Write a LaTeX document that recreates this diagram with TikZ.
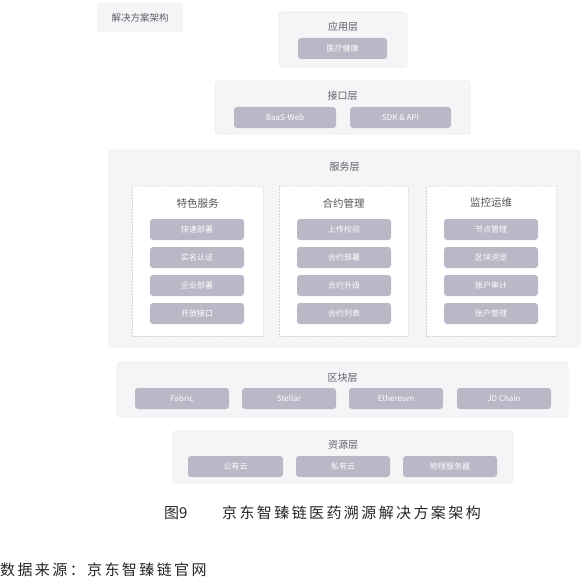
\documentclass[tikz,border=0pt]{standalone}
\usepackage{fontspec}
\setmainfont{Noto Sans CJK SC}
\newfontfamily\capfont[LetterSpace=16]{Noto Sans CJK SC}
\definecolor{layerfill}{HTML}{F5F5F7}
\definecolor{layerline}{HTML}{ECECEF}
\definecolor{itemfill}{HTML}{B8B8C6}
\definecolor{labeltext}{HTML}{5E5E66}
\definecolor{dashline}{HTML}{D2D2D6}
\begin{document}
\begin{tikzpicture}[x=1pt,y=-1pt,
  layer/.style={draw=layerline, line width=0.6pt, fill=layerfill, rounded corners=3pt, inner sep=0pt},
  group/.style={draw=dashline, dashed, dash pattern=on 1.5pt off 1.5pt, line width=0.7pt, fill=white, inner sep=0pt},
  item/.style={fill=itemfill, rounded corners=3pt, inner sep=0pt, minimum height=21pt, text=white, font=\fontsize{8}{9}\selectfont},
  ttl/.style={text=labeltext, font=\fontsize{10}{12}\selectfont, inner sep=0pt},
  head/.style={text=labeltext!90!black, font=\fontsize{10.5}{12}\selectfont, inner sep=0pt}]
\useasboundingbox (0,0) rectangle (588,583);

% title box
\node[fill=layerfill, inner sep=0pt, minimum width=86pt, minimum height=29pt, text=labeltext, font=\fontsize{9.5}{11}\selectfont] (title) at (140,17.5) {解决方案架构};

% application layer
\node[layer, minimum width=128pt, minimum height=55pt] (app) at (343,39.5) {};
\node[ttl] (appL) at (343,27) {应用层};
\node[item, minimum width=89pt] (med) at (342.5,48.5) {医疗健康};

% interface layer
\node[layer, minimum width=255pt, minimum height=53pt] (ifc) at (342.5,107.5) {};
\node[ttl] (ifcL) at (342.5,96) {接口层};
\node[item, minimum width=102pt] (baas) at (285,117.5) {BaaS-Web};
\node[item, minimum width=101pt] (sdk) at (400.5,117.5) {SDK \& API};

% service layer
\node[layer, minimum width=471pt, minimum height=197pt] (svc) at (344.5,248.5) {};
\node[ttl] (svcL) at (344.5,167) {服务层};

\node[group, minimum width=131pt, minimum height=150pt] (g1) at (197.5,261) {};
\node[group, minimum width=129pt, minimum height=150pt] (g2) at (343.5,261) {};
\node[group, minimum width=130pt, minimum height=150pt] (g3) at (491,261) {};
\node[head] (h1) at (197.5,203) {特色服务};
\node[head] (h2) at (343.5,203) {合约管理};
\node[head] (h3) at (491,203) {监控运维};

\node[item, minimum width=94pt] (a1) at (197,229.5) {快速部署};
\node[item, minimum width=94pt] (a2) at (197,257.5) {实名认证};
\node[item, minimum width=94pt] (a3) at (197,285.5) {企业部署};
\node[item, minimum width=94pt] (a4) at (197,313.5) {开放接口};

\node[item, minimum width=94pt] (b1) at (344,229.5) {上传校验};
\node[item, minimum width=94pt] (b2) at (344,257.5) {合约部署};
\node[item, minimum width=94pt] (b3) at (344,285.5) {合约升级};
\node[item, minimum width=94pt] (b4) at (344,313.5) {合约列表};

\node[item, minimum width=94pt] (c1) at (491,229.5) {节点管理};
\node[item, minimum width=94pt] (c2) at (491,257.5) {区块浏览};
\node[item, minimum width=94pt] (c3) at (491,285.5) {账户审计};
\node[item, minimum width=94pt] (c4) at (491,313.5) {账户管理};

% blockchain layer
\node[layer, minimum width=451pt, minimum height=55pt] (chain) at (342.5,389.5) {};
\node[ttl] (chainL) at (342.5,378) {区块层};
\node[item, minimum width=94pt] (fab) at (182,398.5) {Fabric};
\node[item, minimum width=94pt] (ste) at (289,398.5) {Stellar};
\node[item, minimum width=94pt] (eth) at (396,398.5) {Ethereum};
\node[item, minimum width=94pt] (jdc) at (504,398.5) {JD Chain};

% resource layer
\node[layer, minimum width=340pt, minimum height=52pt] (res) at (343,457) {};
\node[ttl] (resL) at (343,445) {资源层};
\node[item, minimum width=95pt] (pub) at (235.5,466.5) {公有云};
\node[item, minimum width=94pt] (pri) at (343,466.5) {私有云};
\node[item, minimum width=94pt] (phy) at (450,466.5) {物理服务器};

% caption and source
\node[anchor=west, inner sep=0pt, text=black!85, font=\fontsize{15}{17}\selectfont] (fig) at (164,513) {图9};
\node[anchor=west, inner sep=0pt, text=black!85, font=\capfont\fontsize{15}{17}\selectfont] (cap) at (222,513) {京东智臻链医药溯源解决方案架构};
\node[anchor=west, inner sep=0pt, text=black!85, font=\capfont\fontsize{15}{17}\selectfont] (src) at (0,570) {数据来源：京东智臻链官网};
\end{tikzpicture}
\end{document}
